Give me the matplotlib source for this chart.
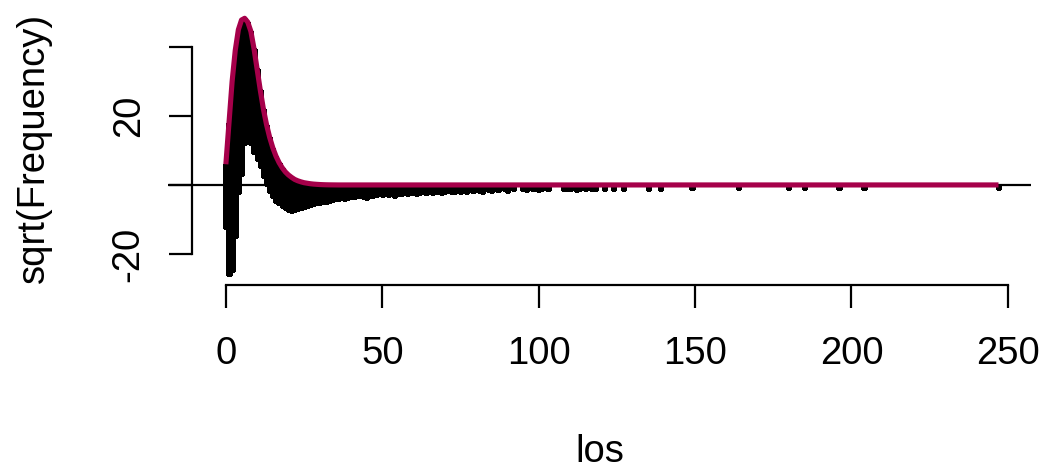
import matplotlib
matplotlib.use("Agg")
import matplotlib.pyplot as plt

plt.rcParams['font.family'] = ['Liberation Sans', 'DejaVu Sans']

# fitted curve: sqrt(expected frequency) by length of stay
los_fit = list(range(0, 41)) + [247]
sqrt_expected = [6.0, 18.0, 30.0, 39.0, 45.0, 47.8, 48.3, 47.2, 44.5, 39.5,
                 33.5, 27.5, 22.0, 17.5, 13.8, 10.8, 8.4, 6.5, 5.0, 3.8,
                 2.9, 2.2, 1.6, 1.2, 0.9, 0.65, 0.5, 0.35, 0.25, 0.18,
                 0.12, 0.08, 0.05, 0.03, 0.02, 0.01, 0.0, 0.0, 0.0, 0.0,
                 0.0, 0.0]

# hanging bars: lower end = sqrt(expected) - sqrt(observed)
bar_los = list(range(0, 82)) + [82, 84, 85, 87, 89, 90, 92, 95, 96, 98, 99, 100,
                                101, 103, 108, 109, 110, 112, 113, 115, 117, 118,
                                121, 124, 127, 135, 139, 149, 164, 180, 185, 196,
                                204, 247]
bar_low = [-12.5, -26, -25, -15, -2.3, 3, 12, 15, 12, 9.3,
           7.2, 5.2, 2.3, 0, -2, -3.5, -4.9, -5.5, -6.5, -7,
           -7.5, -7.7, -7.5, -7.2, -7, -6.7, -6.5, -6.2, -5.8, -5.6,
           -5.4, -5.2, -5.3, -5, -4.6, -4.5, -4.4, -4.2, -4.3, -4,
           -3.7, -3.8, -3.6, -3.5, -3.8, -4.0, -3.6, -3.4, -3.2, -3.0,
           -3.1, -2.8, -3.2, -2.9, -3.4, -3.0, -2.8, -2.6, -2.9, -2.7,
           -2.5, -2.8, -2.6, -2.4, -2.6, -2.3, -2.7, -2.4, -2.2, -2.5,
           -2.3, -2.0, -2.4, -2.2, -1.8, -2.3, -2.0, -2.2, -1.7, -2.0,
           -1.6, -2.0,
           -2.2, -1.8, -2.0, -1.7, -1.6, -1.9, -1.5, -1.4, -1.7, -1.6, -1.4, -1.8,
           -1.4, -1.5, -1.6, -1.4, -1.5, -1.7, -1.4, -1.5, -1.4, -1.6,
           -1.4, -1.4, -1.4, -1.4, -1.4, -1.3, -1.2, -1.2, -1.2, -1.2,
           -1.2, -1.2]

expected = dict(zip(los_fit, sqrt_expected))
bar_top = [expected.get(k, 0.0) for k in bar_los]
bar_h = [t - b for t, b in zip(bar_top, bar_low)]

fig = plt.figure(figsize=(10.48, 4.70), dpi=100)
ax = fig.add_axes([0.1603, 0.3936, 0.8235, 0.5851])

ax.bar(bar_los, bar_h, bottom=bar_low, width=1.0, color='black',
       edgecolor='black', linewidth=1.0, antialiased=False, zorder=2)
ax.axhline(0, color='black', linewidth=1.6, zorder=1)
ax.plot(los_fit, sqrt_expected, color='#A6004A', linewidth=3.7,
        solid_capstyle='butt', zorder=3)

ax.set_xlim(-18.5, 257.4)
ax.set_ylim(-29, 50.7)

for s in ['top', 'right']:
    ax.spines[s].set_visible(False)
ax.spines['left'].set_position(('data', -10.9))
ax.spines['left'].set_bounds(-20, 40)
ax.spines['bottom'].set_bounds(0, 250)
for s in ['left', 'bottom']:
    ax.spines[s].set_linewidth(1.6)

ax.set_xticks([0, 50, 100, 150, 200, 250])
ax.set_yticks([-20, 0, 20, 40])
ax.set_yticklabels(['-20', '', '20', ''], rotation=90, va='center')
ax.tick_params(axis='both', length=16.5, width=1.6, labelsize=27.5)
ax.tick_params(axis='x', pad=20)
ax.tick_params(axis='y', pad=16)

ax.set_xlabel('los', fontsize=27.5, labelpad=45)
ax.set_ylabel('sqrt(Frequency)', fontsize=27.5)
ax.yaxis.set_label_coords(-0.134, 0.5)

fig.savefig('out.png', dpi=100)
